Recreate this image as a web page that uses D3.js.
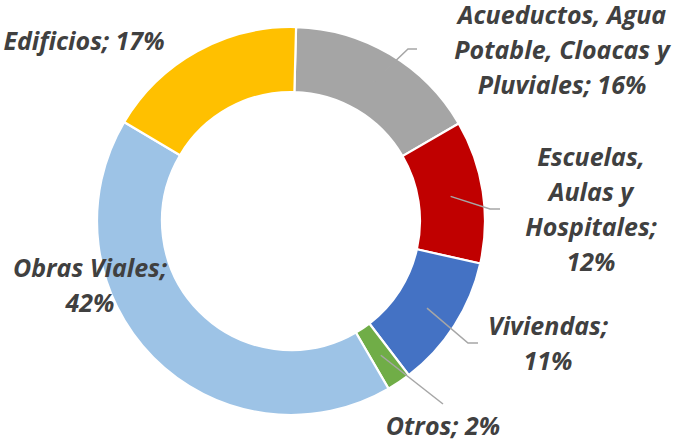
<!DOCTYPE html>
<html><head><meta charset="utf-8">
<script src="https://cdn.jsdelivr.net/npm/d3@7"></script>
<style>html,body{margin:0;padding:0;background:#fff;}svg{display:block;}</style>
</head><body><svg id="chart" width="674" height="441"></svg>
<script>
// ---- data ----
const categories = ["Acueductos, Agua Potable, Cloacas y Pluviales", "Escuelas, Aulas y Hospitales", "Viviendas", "Otros", "Obras Viales", "Edificios"];
const values = [16.2, 11.9, 11.1, 2.0, 41.9, 16.9];
const labelLines = [
  ["Acueductos, Agua", "Potable, Cloacas y", "Pluviales; {p}"],
  ["Escuelas,", "Aulas y", "Hospitales;", "{p}"],
  ["Viviendas;", "{p}"],
  ["Otros; {p}"],
  ["Obras Viales;", "{p}"],
  ["Edificios; {p}"]
];
const colors = ["#A5A5A5", "#C00000", "#4472C4", "#70AD47", "#9DC3E6", "#FFC000"];

// ---- layout ----
const cx = 291, cy = 221, rOuter = 194, rInner = 129;
const startAngle = 1.5 * Math.PI / 180;
const lineH = 35;
const labelLayout = [
  {x: 562, y: 24, leader: [[408, 49], [417, 49]]},
  {x: 591, y: 166, leader: [[490, 209], [500, 209]]},
  {x: 548, y: 335, leader: [[468, 343], [478, 343]]},
  {x: 443, y: 435, leader: [[443, 404]]},
  {x: 90, y: 277, leader: null},
  {x: 84, y: 50, leader: null}
];

const svg = d3.select("#chart");
const g = svg.append("g").attr("transform", `translate(${cx},${cy})`);

const pie = d3.pie().sort(null).value(d => d)
  .startAngle(startAngle).endAngle(startAngle + 2 * Math.PI);
const arcs = pie(values);
const arc = d3.arc().innerRadius(rInner).outerRadius(rOuter);
const midArc = d3.arc().innerRadius((rInner + rOuter) / 2).outerRadius((rInner + rOuter) / 2);

g.selectAll("path.slice").data(arcs).join("path")
  .attr("class", "slice")
  .attr("d", arc)
  .attr("fill", (d, i) => colors[i])
  .attr("stroke", "#fff")
  .attr("stroke-width", 2.2);

// leader lines
const total = d3.sum(values);
arcs.forEach((d, i) => {
  const lay = labelLayout[i];
  if (!lay.leader) return;
  const c = midArc.centroid(d);
  const pts = [[cx + c[0], cy + c[1]], ...lay.leader];
  svg.append("path")
    .attr("d", d3.line()(pts))
    .attr("fill", "none")
    .attr("stroke", "#A6A6A6")
    .attr("stroke-width", 1.5);
});

// labels
arcs.forEach((d, i) => {
  const lay = labelLayout[i];
  const pct = Math.round(values[i] / total * 100) + "%";
  const t = svg.append("text")
    .attr("x", lay.x).attr("y", lay.y)
    .attr("text-anchor", "middle")
    .attr("font-family", "'Open Sans', sans-serif")
    .attr("font-weight", "bold")
    .attr("font-style", "italic")
    .attr("font-size", 25)
    .attr("fill", "#404040");
  labelLines[i].forEach((ln, k) => {
    t.append("tspan").attr("x", lay.x).attr("y", lay.y + k * lineH)
      .text(ln.replace("{p}", pct));
  });
});
</script></body></html>
